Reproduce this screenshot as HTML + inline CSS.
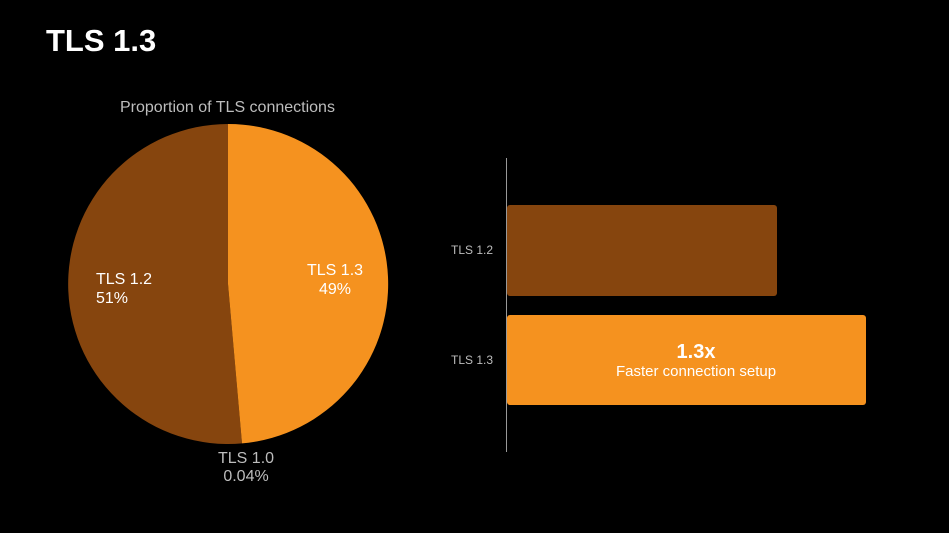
<!DOCTYPE html>
<html><head><style>
html,body{margin:0;padding:0;background:#000;}
body{width:949px;height:533px;position:relative;overflow:hidden;font-family:"Liberation Sans",sans-serif;}
.t{position:absolute;white-space:nowrap;}
</style></head><body>
<div class="t" style="left:46px;top:23px;font-size:31px;font-weight:bold;color:#fff;">TLS 1.3</div>
<div class="t" style="left:120px;top:99px;font-size:16px;color:#bdbdbd;">Proportion of TLS connections</div>
<svg width="949" height="533" style="position:absolute;left:0;top:0">
<path d="M228,284 L228,124 A160,160 0 1,0 242,443.4 Z" fill="#86450E"/>
<path d="M228,284 L228,124 A160,160 0 0,1 242,443.4 Z" fill="#F5921F"/>
<line x1="506.5" y1="158" x2="506.5" y2="452" stroke="#999" stroke-width="1"/>
<rect x="507" y="205" width="270" height="91" rx="3" fill="#86450E"/>
<rect x="507" y="315" width="359" height="90" rx="3" fill="#F5921F"/>
</svg>
<div class="t" style="left:96px;top:270px;font-size:16px;color:#fff;line-height:19px;">TLS 1.2<br>51%</div>
<div class="t" style="left:307px;top:261px;font-size:16px;color:#fff;line-height:19px;text-align:center;">TLS 1.3<br>49%</div>
<div class="t" style="left:218px;top:450px;font-size:16px;color:#bdbdbd;line-height:18px;text-align:center;">TLS 1.0<br>0.04%</div>
<div class="t" style="left:451px;top:243px;font-size:12px;color:#bdbdbd;">TLS 1.2</div>
<div class="t" style="left:451px;top:353px;font-size:12px;color:#bdbdbd;">TLS 1.3</div>
<div class="t" style="left:507px;width:378px;top:341px;text-align:center;font-size:20px;font-weight:bold;color:#fff;">1.3x</div>
<div class="t" style="left:507px;width:378px;top:363px;text-align:center;font-size:15px;color:#fff;">Faster connection setup</div>
</body></html>
